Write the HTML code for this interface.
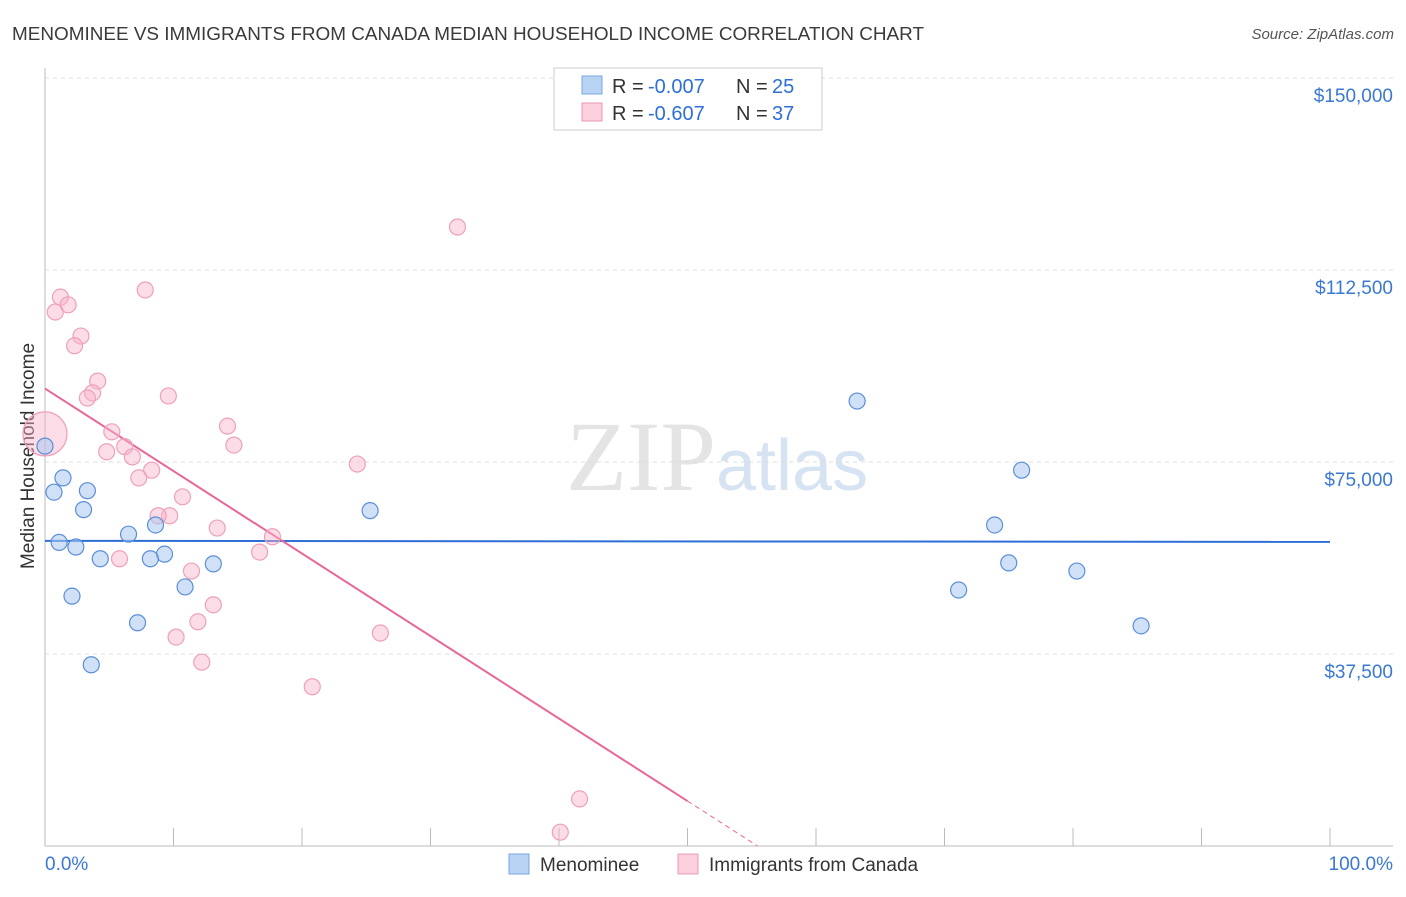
<!DOCTYPE html>
<html><head><meta charset="utf-8"><style>
body{margin:0;background:#fff;font-family:"Liberation Sans",sans-serif}
</style></head><body>
<svg id="chart" width="1406" height="892" viewBox="0 0 1406 892" xmlns="http://www.w3.org/2000/svg">
<text x="12" y="40" font-size="18" fill="#3a3a3a" textLength="912" lengthAdjust="spacingAndGlyphs">MENOMINEE VS IMMIGRANTS FROM CANADA MEDIAN HOUSEHOLD INCOME CORRELATION CHART</text>
<text x="1394" y="39" font-size="15" fill="#555" font-style="italic" text-anchor="end">Source: ZipAtlas.com</text>
<text x="716" y="490" font-size="100" fill="#e4e4e4" text-anchor="end" font-family="Liberation Serif,serif">ZIP</text>
<text x="716" y="490" font-size="72" fill="#d6e3f3">atlas</text>
<text transform="translate(34,456) rotate(-90)" font-size="19" fill="#333" text-anchor="middle">Median Household Income</text>
<g id="grid"></g><g id="ticks"></g><g id="lines"></g><g id="points"></g>
<g>
<rect x="554" y="68" width="268" height="62" fill="#fff" stroke="#ccc"/>
<rect x="582" y="76" width="20" height="18" fill="#b9d3f5" stroke="#7aa6e0"/>
<text x="612" y="93" font-size="20" fill="#333">R =</text>
<text x="648" y="93" font-size="20" fill="#2d6fd6">-0.007</text>
<text x="736" y="93" font-size="20" fill="#333">N =</text>
<text x="772" y="93" font-size="20" fill="#2d6fd6">25</text>
<rect x="582" y="103" width="20" height="18" fill="#fbcfdc" stroke="#ee9ab4"/>
<text x="612" y="120" font-size="20" fill="#333">R =</text>
<text x="648" y="120" font-size="20" fill="#2d6fd6">-0.607</text>
<text x="736" y="120" font-size="20" fill="#333">N =</text>
<text x="772" y="120" font-size="20" fill="#2d6fd6">37</text>
</g>
<g>
<rect x="509" y="854" width="20" height="20" fill="#b9d3f5" stroke="#7aa6e0"/>
<text x="540" y="871" font-size="19" fill="#333">Menominee</text>
<rect x="678" y="854" width="20" height="20" fill="#fbcfdc" stroke="#ee9ab4"/>
<text x="709" y="871" font-size="19" fill="#333">Immigrants from Canada</text>
</g>
<text x="45" y="870" font-size="19" fill="#3a78d4">0.0%</text>
<text x="1393" y="870" font-size="19" fill="#3a78d4" text-anchor="end">100.0%</text>
</svg>
<script>
const yTicks=[37500,75000,112500,150000];
const yTickLabels=["$37,500","$75,000","$112,500","$150,000"];
const blueX=[0,0.7,1.4,3.3,3.0,1.1,2.4,4.3,2.1,6.5,8.6,9.3,8.2,7.2,3.6,13.1,10.9,25.3,63.2,76.0,73.9,75.0,80.3,71.1,85.3];
const blueY=[78100,69100,71900,69400,65700,59300,58400,56100,48800,60900,62700,57000,56100,43600,35400,55100,50600,65500,86900,73400,62700,55300,53700,50000,43000];
const pinkX=[0,1.2,1.8,0.8,2.8,2.3,7.8,32.1,4.1,3.7,3.3,9.6,5.2,4.8,6.2,6.8,8.3,7.3,14.2,14.7,24.3,10.7,9.7,8.8,13.4,17.7,16.7,5.8,11.4,13.1,11.9,10.2,12.2,26.1,20.8,41.6,40.1];
const pinkY=[80500,107200,105700,104300,99600,97700,108600,120900,90800,88500,87500,87900,80900,77000,78000,76000,73400,71900,82000,78300,74600,68200,64500,64500,62100,60400,57400,56100,53700,47100,43800,40800,35900,41600,31100,9200,2700];
const pinkR=[].concat([22],Array(36).fill(8));
const X0=45,X1=1330,YB=846,PXPER=192/37500;
const sx=p=>X0+(X1-X0)*p/100;
const sy=v=>YB-v*PXPER;
const NS="http://www.w3.org/2000/svg";
function mk(t,a,parent){const e=document.createElementNS(NS,t);for(const k in a)e.setAttribute(k,a[k]);document.getElementById(parent).appendChild(e);return e;}
let ax=mk("line",{x1:45,y1:68,x2:45,y2:846,stroke:"#bbb"},"grid");


let bx=mk("line",{x1:45,y1:846,x2:1393,y2:846,stroke:"#bbb"},"grid");


yTicks.forEach((v,i)=>{
 let g=mk("line",{x1:45,y1:sy(v),x2:1393,y2:sy(v),stroke:"#ddd","stroke-dasharray":"4,4"},"grid");
 
 
 let t=mk("text",{x:1393,y:sy(v)+24,"font-size":19,fill:"#3a78d4","text-anchor":"end"},"ticks");
 t.textContent=yTickLabels[i];
 
 
});
for(let i=0;i<=10;i++){
 let t=mk("line",{x1:sx(i*10),y1:828,x2:sx(i*10),y2:846,stroke:"#bbb"},"ticks");
 
 
}
function fit(xs,ys){const n=xs.length;let mx=0,my=0;xs.forEach((x,i)=>{mx+=x;my+=ys[i]});mx/=n;my/=n;let sxy=0,sxx=0;xs.forEach((x,i)=>{sxy+=(x-mx)*(ys[i]-my);sxx+=(x-mx)**2});const b=sxy/sxx;return [my-b*mx,b];}
const [ba,bb]=fit(blueX,blueY);
let bl=mk("line",{x1:sx(0),y1:sy(ba),x2:sx(100),y2:sy(ba+bb*100),stroke:"#2d6fd6","stroke-width":2},"lines");


const [pa,pb]=fit(pinkX,pinkY);
let pl=mk("line",{x1:sx(0),y1:sy(pa),x2:sx(50),y2:sy(pa+pb*50),stroke:"#e8669a","stroke-width":2},"lines");


const xz=-pa/pb;
let pd=mk("line",{x1:sx(50),y1:sy(pa+pb*50),x2:sx(xz),y2:sy(0),stroke:"#e8669a","stroke-width":1,"stroke-dasharray":"5,4"},"lines");


pinkX.forEach((x,i)=>{
 let c=mk("circle",{cx:sx(x),cy:sy(pinkY[i]),r:pinkR[i],fill:"rgba(248,180,202,0.45)",stroke:"#eea0ba","stroke-width":1.2},"points");
 
 
});
blueX.forEach((x,i)=>{
 let c=mk("circle",{cx:sx(x),cy:sy(blueY[i]),r:8,fill:"rgba(170,200,240,0.55)",stroke:"#5b8fd8","stroke-width":1.2},"points");
 
 
});
</script>
</body></html>
